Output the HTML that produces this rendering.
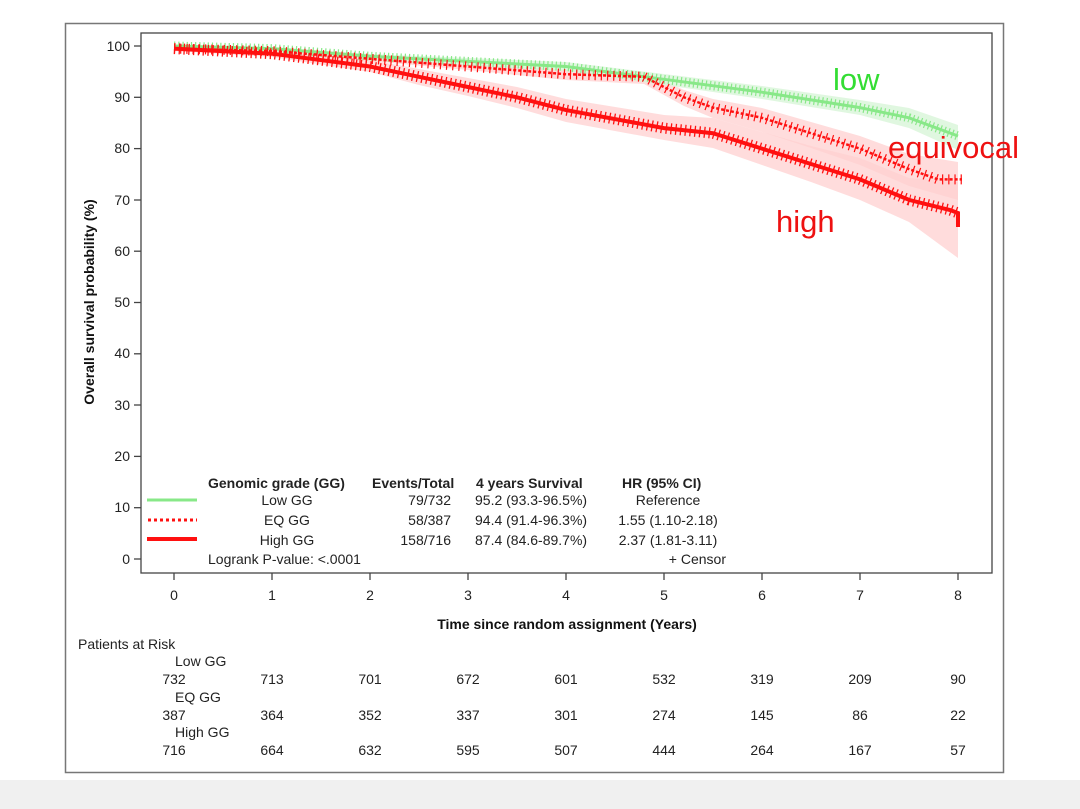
<!DOCTYPE html>
<html><head><meta charset="utf-8"><style>
html,body{margin:0;padding:0;background:#fff;}
svg{display:block;font-family:"Liberation Sans",Arial,sans-serif;}
</style></head><body>
<svg width="1080" height="809" viewBox="0 0 1080 809">
<rect x="0" y="780" width="1080" height="29" fill="#f0f0f0"/>
<rect x="65.5" y="23.5" width="938" height="749" fill="#fff" stroke="#777" stroke-width="1.5"/>
<!-- CI bands -->
<polygon fill="#ffd0d0" opacity="0.75" points="174,46 272,49 370,58 468,64 566,70 644,72 684,90 713,99 762,108 811,122 860,136 909,154 958,162 958,200 909,186 860,165 811,148 762,132 713,118 684,106 644,84 566,80 468,70 370,61 272,54 174,51"/>
<polygon fill="#ffd0d0" opacity="0.75" points="174,46 272,50 370,60 419,69 468,78 517,87 566,99 664,115 713,118 762,132 811,146 860,158 909,178 958,182 958,258 909,222 860,200 811,182 762,165 713,148 664,140 566,122 517,108 468,96 419,85 370,72 272,57 174,51"/>
<polygon fill="#d8f5d8" opacity="0.8" points="174,46 272,47 370,54 468,58 566,62 664,74 762,86 811,93 860,100 909,108 958,125 958,150 909,128 860,115 811,107 762,99 664,85 566,71 468,65 370,59 272,50 174,48"/>
<!-- Low -->
<polyline fill="none" stroke="#88e888" stroke-width="3" points="174,46 272,48.6 370,56.3 468,61.4 566,66.5 664,79.3 762,92.2 811,99.9 860,107.6 909,117.8 958,136"/>
<polyline fill="none" stroke="#88e888" stroke-width="9" stroke-dasharray="1.2 3" points="174,46 272,48.6 370,56.3 468,61.4 566,66.5 664,79.3 762,92.2 811,99.9 860,107.6 909,117.8 958,136"/>
<!-- EQ -->
<polyline fill="none" stroke="#ff1010" stroke-width="2.5" stroke-dasharray="3 2" points="174,48.6 272,51.1 370,58.8 468,66.5 566,74.2 644,76.8 684,97.3 713,107.6 762,117.8 811,133.2 860,148.6 909,169.1 938,179.4 962,179.4"/>
<polyline fill="none" stroke="#ff1010" stroke-width="10" stroke-dasharray="1.2 5" points="174,48.6 272,51.1 370,58.8 468,66.5 566,74.2 644,76.8 684,97.3 713,107.6 762,117.8 811,133.2 860,148.6 909,169.1 938,179.4 962,179.4"/>
<!-- High -->
<polyline fill="none" stroke="#ff1010" stroke-width="4" points="174,48.6 272,53.7 370,66.5 419,76.8 468,87 517,97.3 566,110.1 664,128.1 713,133.2 762,148.6 811,164 860,179.4 909,199.9 950,210 958,213 958,227"/>
<polyline fill="none" stroke="#ff1010" stroke-width="11" stroke-dasharray="1.3 3.5" points="174,48.6 272,53.7 370,66.5 419,76.8 468,87 517,97.3 566,110.1 664,128.1 713,133.2 762,148.6 811,164 860,179.4 909,199.9 950,210 958,213"/>
<!-- plot frame -->
<rect x="141" y="33" width="851" height="540" fill="none" stroke="#444" stroke-width="1.3"/>
<g stroke="#444" stroke-width="1.3">
<line x1="134" y1="46" x2="141" y2="46"/><line x1="134" y1="97.3" x2="141" y2="97.3"/><line x1="134" y1="148.6" x2="141" y2="148.6"/><line x1="134" y1="200" x2="141" y2="200"/><line x1="134" y1="251.2" x2="141" y2="251.2"/><line x1="134" y1="302.5" x2="141" y2="302.5"/><line x1="134" y1="353.8" x2="141" y2="353.8"/><line x1="134" y1="405" x2="141" y2="405"/><line x1="134" y1="456.4" x2="141" y2="456.4"/><line x1="134" y1="507.7" x2="141" y2="507.7"/><line x1="134" y1="559" x2="141" y2="559"/>
<line x1="174" y1="573" x2="174" y2="580"/><line x1="272" y1="573" x2="272" y2="580"/><line x1="370" y1="573" x2="370" y2="580"/><line x1="468" y1="573" x2="468" y2="580"/><line x1="566" y1="573" x2="566" y2="580"/><line x1="664" y1="573" x2="664" y2="580"/><line x1="762" y1="573" x2="762" y2="580"/><line x1="860" y1="573" x2="860" y2="580"/><line x1="958" y1="573" x2="958" y2="580"/>
</g>
<g font-size="14" fill="#222" text-anchor="end">
<text x="130" y="51">100</text><text x="130" y="102">90</text><text x="130" y="153">80</text><text x="130" y="205">70</text><text x="130" y="256">60</text><text x="130" y="307">50</text><text x="130" y="358">40</text><text x="130" y="410">30</text><text x="130" y="461">20</text><text x="130" y="512">10</text><text x="130" y="564">0</text>
</g>
<g font-size="14" fill="#222" text-anchor="middle">
<text x="174" y="600">0</text><text x="272" y="600">1</text><text x="370" y="600">2</text><text x="468" y="600">3</text><text x="566" y="600">4</text><text x="664" y="600">5</text><text x="762" y="600">6</text><text x="860" y="600">7</text><text x="958" y="600">8</text>
</g>
<text x="567" y="629" font-size="14" font-weight="bold" text-anchor="middle" fill="#111">Time since random assignment (Years)</text>
<text transform="translate(94,302) rotate(-90)" font-size="14" font-weight="bold" text-anchor="middle" fill="#111">Overall survival probability (%)</text>
<!-- labels -->
<text x="833" y="90" font-size="31" fill="#33dd33">low</text>
<text x="888" y="158" font-size="31" fill="#ee1111">equivocal</text>
<text x="776" y="232" font-size="31" fill="#ee1111">high</text>
<!-- legend -->
<g font-size="14" fill="#222">
<g font-weight="bold"><text x="208" y="488">Genomic grade (GG)</text><text x="372" y="488">Events/Total</text><text x="476" y="488">4 years Survival</text><text x="622" y="488">HR (95% CI)</text></g>
<line x1="147" y1="500" x2="197" y2="500" stroke="#88e888" stroke-width="3"/>
<line x1="148" y1="520" x2="197" y2="520" stroke="#ff1010" stroke-width="3" stroke-dasharray="3 3"/>
<line x1="147" y1="539" x2="197" y2="539" stroke="#ff1010" stroke-width="4"/>
<g text-anchor="middle"><text x="287" y="505">Low GG</text><text x="287" y="525">EQ GG</text><text x="287" y="545">High GG</text></g>
<g text-anchor="end"><text x="451" y="505">79/732</text><text x="451" y="525">58/387</text><text x="451" y="545">158/716</text></g>
<text x="475" y="505">95.2 (93.3-96.5%)</text><text x="475" y="525">94.4 (91.4-96.3%)</text><text x="475" y="545">87.4 (84.6-89.7%)</text>
<text x="668" y="505" text-anchor="middle">Reference</text><text x="668" y="525" text-anchor="middle">1.55 (1.10-2.18)</text><text x="668" y="545" text-anchor="middle">2.37 (1.81-3.11)</text>
<text x="208" y="564">Logrank P-value: &lt;.0001</text>
<text x="726" y="564" text-anchor="end">+ Censor</text>
</g>
<!-- risk table -->
<g font-size="14" fill="#222">
<text x="78" y="649">Patients at Risk</text>
<text x="175" y="666">Low GG</text><text x="175" y="702">EQ GG</text><text x="175" y="737">High GG</text>
<g text-anchor="middle">
<text x="174" y="684">732</text><text x="272" y="684">713</text><text x="370" y="684">701</text><text x="468" y="684">672</text><text x="566" y="684">601</text><text x="664" y="684">532</text><text x="762" y="684">319</text><text x="860" y="684">209</text><text x="958" y="684">90</text>
<text x="174" y="720">387</text><text x="272" y="720">364</text><text x="370" y="720">352</text><text x="468" y="720">337</text><text x="566" y="720">301</text><text x="664" y="720">274</text><text x="762" y="720">145</text><text x="860" y="720">86</text><text x="958" y="720">22</text>
<text x="174" y="755">716</text><text x="272" y="755">664</text><text x="370" y="755">632</text><text x="468" y="755">595</text><text x="566" y="755">507</text><text x="664" y="755">444</text><text x="762" y="755">264</text><text x="860" y="755">167</text><text x="958" y="755">57</text>
</g></g>
</svg>
</body></html>
